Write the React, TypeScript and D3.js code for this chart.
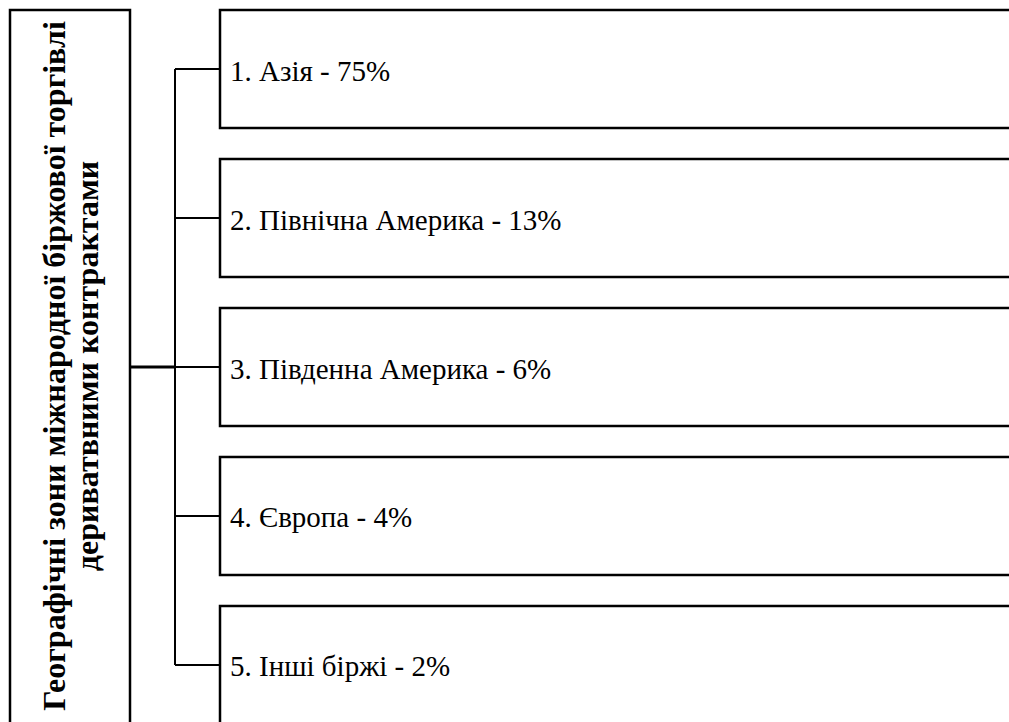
import React from "react";
import * as d3 from "d3";

const titleLines = [
  "Географічні зони міжнародної біржової торгівлі",
  "дериватвними контрактами",
];
const regions = ["Азія", "Північна Америка", "Південна Америка", "Європа", "Інші біржі"];
const shares = [75, 13, 6, 4, 2];

const W = 1009;
const H = 722;

export default function App() {
  const idx = regions.map((_, i) => i);
  const y = d3
    .scaleBand<number>()
    .domain(idx)
    .range([10, 724])
    .paddingInner(0.208)
    .paddingOuter(0);
  const bw = y.bandwidth();
  const centers = idx.map((i) => (y(i) as number) + bw / 2);
  const boxX = 220;
  const trunkX = 175;
  const leftBox = { x: 10, y: 10, w: 120 };
  const midY = centers[2];
  const font = "Liberation Serif";

  const vLine = d3.line<[number, number]>()([
    [trunkX, centers[0]],
    [trunkX, centers[centers.length - 1]],
  ]);

  return (
    <svg
      width={W}
      height={H}
      style={{ position: "absolute", left: 0, top: 0, background: "#fff" }}
    >
      <rect x={0} y={0} width={W} height={H} fill="#fff" />
      <rect
        x={leftBox.x}
        y={leftBox.y}
        width={leftBox.w}
        height={H + 20}
        fill="none"
        stroke="#000"
        strokeWidth={2.5}
      />
      <g transform={`translate(0, ${366}) rotate(-90)`}>
        {titleLines.map((t, i) => (
          <text
            key={i}
            x={0}
            y={65 + i * 33}
            textAnchor="middle"
            style={{ fontFamily: font, fontWeight: "bold", fontSize: "32px" }}
            fill="#000"
          >
            {t}
          </text>
        ))}
      </g>
      <line x1={leftBox.x + leftBox.w} y1={midY} x2={trunkX} y2={midY} stroke="#000" strokeWidth={3} />
      <path d={vLine || ""} stroke="#000" strokeWidth={2} fill="none" />
      {idx.map((i) => (
        <g key={i}>
          <line x1={trunkX} y1={centers[i]} x2={boxX} y2={centers[i]} stroke="#000" strokeWidth={2} />
          <rect
            x={boxX}
            y={y(i) as number}
            width={W}
            height={bw}
            fill="none"
            stroke="#000"
            strokeWidth={2.5}
          />
          <text
            x={boxX + 10}
            y={centers[i] + 11.5}
            style={{ fontFamily: font, fontSize: "29px" }}
            fill="#000"
          >
            {`${i + 1}. ${regions[i]} - ${shares[i]}%`}
          </text>
        </g>
      ))}
    </svg>
  );
}
